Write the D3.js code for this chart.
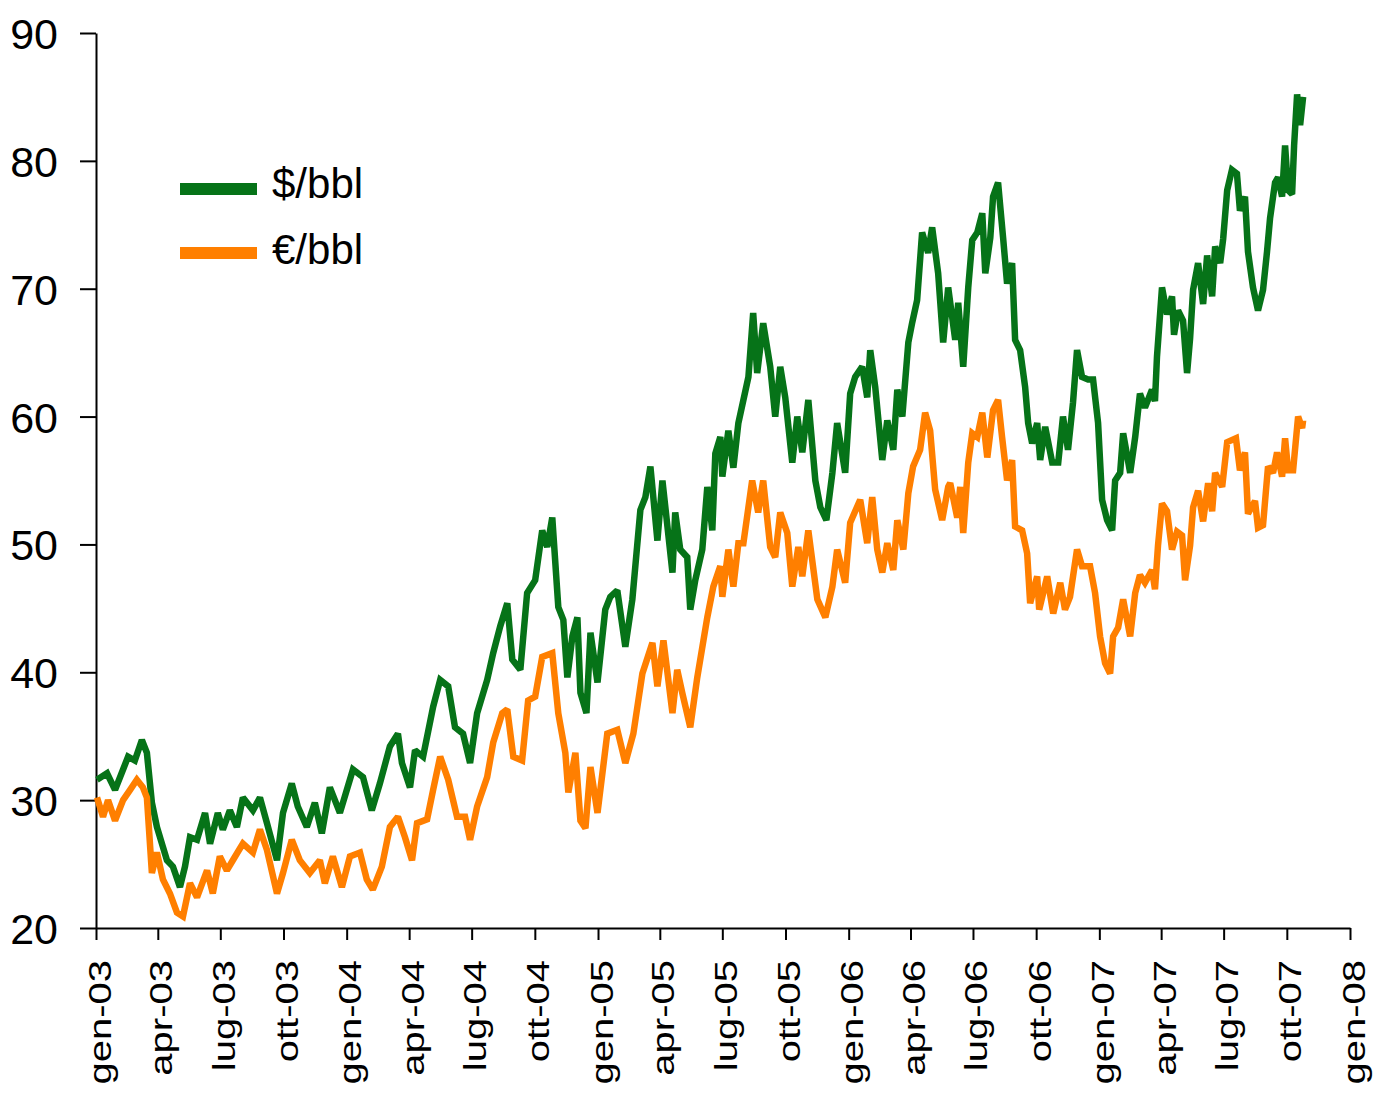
<!DOCTYPE html>
<html>
<head>
<meta charset="utf-8">
<script src="https://cdn.jsdelivr.net/npm/d3@7"></script>
<style>
  html, body { margin: 0; padding: 0; background: #fff; }
  svg { display: block; font-family: "Liberation Sans", Arial, Helvetica, sans-serif; }
</style>
</head>
<body>
<svg id="chart" width="1375" height="1094"></svg>
<script>
// ---- data (time as decimal years) ----
const usdDates = [
  2003.004,2003.044,2003.076,2003.108,2003.128,2003.155,2003.183,2003.203,2003.223,2003.243,2003.263,2003.283,2003.307,2003.335,2003.355,2003.375,2003.403,2003.435,2003.455,2003.486,2003.506,2003.534,2003.562,2003.586,2003.626,2003.654,2003.682,2003.722,2003.746,2003.781,2003.805,2003.841,2003.873,2003.901,2003.933,2003.973,
  2004.025,2004.065,2004.100,2004.132,2004.172,2004.204,2004.220,2004.252,2004.272,2004.304,2004.344,2004.372,2004.404,2004.431,2004.463,2004.491,2004.519,2004.559,2004.583,2004.611,2004.639,2004.659,2004.691,2004.718,2004.750,2004.778,2004.798,2004.818,2004.842,2004.862,2004.878,2004.898,2004.918,2004.930,2004.954,2004.970,2004.998,
  2005.029,2005.049,2005.077,2005.109,2005.137,2005.169,2005.189,2005.209,2005.237,2005.257,2005.297,2005.308,2005.328,2005.356,2005.368,2005.388,2005.416,2005.436,2005.456,2005.468,2005.488,2005.496,2005.520,2005.540,2005.560,2005.580,2005.600,2005.619,2005.635,2005.659,2005.687,2005.707,2005.727,2005.747,2005.775,2005.795,2005.815,2005.839,2005.867,2005.887,2005.911,2005.935,2005.954,2005.986,
  2006.006,2006.026,2006.054,2006.074,2006.086,2006.106,2006.134,2006.154,2006.178,2006.194,2006.214,2006.238,2006.253,2006.273,2006.293,2006.317,2006.333,2006.357,2006.377,2006.397,2006.425,2006.437,2006.457,2006.477,2006.493,2006.513,2006.533,2006.545,2006.565,2006.576,2006.596,2006.616,2006.632,2006.652,2006.664,2006.684,2006.704,2006.716,2006.732,2006.752,2006.764,2006.784,2006.812,2006.836,2006.855,2006.875,2006.895,2006.911,2006.931,2006.955,2006.975,2006.995,
  2007.011,2007.031,2007.051,2007.063,2007.083,2007.095,2007.123,2007.143,2007.162,2007.182,2007.210,2007.222,2007.230,2007.250,2007.270,2007.290,2007.298,2007.314,2007.334,2007.350,2007.362,2007.374,2007.394,2007.414,2007.430,2007.450,2007.462,2007.482,2007.494,2007.510,2007.529,2007.549,2007.561,2007.581,2007.593,2007.613,2007.633,2007.653,2007.669,2007.681,2007.701,2007.713,2007.729,2007.741,2007.753,2007.769,2007.777,2007.789,2007.801,2007.813
];
const usdValues = [
  31.6,32.1,30.8,32.4,33.4,33.1,34.7,33.7,29.8,27.9,26.6,25.3,24.8,23.2,24.8,27.1,26.9,29,26.6,29,27.7,29.2,27.9,30.2,29.2,30.2,28.2,25.3,29,31.3,29.5,27.9,29.8,27.4,31,29,
  32.4,31.8,29.2,31.3,34.2,35.2,32.9,31,33.9,33.4,37.3,39.4,38.9,35.7,35.2,32.9,36.8,39.4,41.5,43.6,45.4,41,40.2,46.2,47.2,51.1,49.8,52.1,45.1,44.1,39.6,42.8,44.3,38.4,36.8,43.1,39.2,
  44.9,45.9,46.4,42,45.7,52.7,53.7,56.1,50.3,55,47.8,52.5,49.6,49,44.9,47.2,49.6,54.5,51.1,57.1,58.4,55.3,58.9,56,59.5,61.3,63.1,68.1,63.4,67.3,63.9,60,63.9,61.5,56.4,60,57.2,61.3,55,52.9,51.9,55.6,59.5,55.6,
  61.8,63.1,63.9,61.5,65.2,62.3,56.6,59.7,57.4,62.1,60,65.8,67.3,69.1,74.4,72.8,74.8,71.2,65.8,70.1,66,68.9,63.9,70.1,73.8,74.4,75.9,71.2,74,77.2,78.3,74,70.4,72,66,65.2,62.3,59.5,57.9,59.5,56.6,59.2,56.4,56.4,60,57.4,61.1,65.2,63.1,62.9,62.9,59.5,
  53.5,51.9,51.1,55,55.6,58.7,55.6,58.4,61.8,60.7,62.1,61.2,64.7,70.1,68,69.4,66.4,68.3,67.5,63.4,66.1,69.9,72,68.8,72.6,69.4,73.3,72,73.9,77.7,79.3,79,76.1,77.2,72.9,70.1,68.3,69.9,72.9,75.5,78.3,78.7,77.2,81.2,77.7,77.4,81.2,85.2,82.8,85
];
const eurDates = [
  2003.004,2003.028,2003.048,2003.076,2003.108,2003.136,2003.163,2003.187,2003.203,2003.223,2003.243,2003.267,2003.295,2003.323,2003.347,2003.375,2003.403,2003.443,2003.466,2003.494,2003.522,2003.546,2003.586,2003.626,2003.654,2003.682,2003.722,2003.746,2003.781,2003.813,2003.853,2003.893,2003.913,2003.945,2003.981,
  2004.013,2004.053,2004.080,2004.104,2004.140,2004.172,2004.204,2004.232,2004.260,2004.280,2004.320,2004.344,2004.372,2004.404,2004.439,2004.471,2004.491,2004.519,2004.559,2004.583,2004.619,2004.639,2004.663,2004.698,2004.722,2004.750,2004.778,2004.818,2004.842,2004.870,2004.882,2004.910,2004.930,2004.950,2004.970,2004.998,
  2005.037,2005.077,2005.109,2005.141,2005.177,2005.217,2005.237,2005.261,2005.297,2005.316,2005.336,2005.368,2005.396,2005.436,2005.460,2005.488,2005.496,2005.520,2005.540,2005.560,2005.580,2005.615,2005.639,2005.659,2005.687,2005.707,2005.727,2005.755,2005.775,2005.799,2005.815,2005.839,2005.875,2005.907,2005.935,2005.954,2005.986,
  2006.006,2006.046,2006.074,2006.094,2006.114,2006.134,2006.154,2006.178,2006.194,2006.218,2006.238,2006.257,2006.285,2006.305,2006.325,2006.345,2006.373,2006.397,2006.405,2006.433,2006.445,2006.457,2006.477,2006.493,2006.513,2006.533,2006.553,2006.576,2006.596,2006.612,2006.632,2006.652,2006.664,2006.692,2006.712,2006.724,2006.752,2006.760,2006.792,2006.816,2006.844,2006.863,2006.883,2006.911,2006.931,2006.963,2006.983,
  2007.003,2007.023,2007.043,2007.055,2007.075,2007.095,2007.123,2007.143,2007.162,2007.182,2007.210,2007.222,2007.234,2007.250,2007.270,2007.290,2007.310,2007.330,2007.342,2007.362,2007.374,2007.394,2007.414,2007.434,2007.450,2007.462,2007.490,2007.510,2007.545,2007.561,2007.581,2007.593,2007.621,2007.633,2007.653,2007.673,2007.693,2007.709,2007.729,2007.741,2007.753,2007.773,2007.793,2007.809,2007.813
];
const eurValues = [
  30.2,28.7,30,28.4,30,30.8,31.6,31,30.2,24.3,25.9,23.8,22.7,21.2,20.9,23.5,22.4,24.5,22.7,25.6,24.5,25.3,26.6,25.9,27.7,26.1,22.7,24.3,26.9,25.3,24.3,25.3,23.5,25.6,23.2,
  25.6,25.9,23.8,23,24.8,27.9,28.7,27.1,25.3,28.2,28.5,30.8,33.4,31.6,28.7,28.7,26.9,29.5,31.8,34.5,36.8,37.1,33.4,33.1,37.8,38.1,41.2,41.5,36.8,33.7,30.6,33.7,28.4,27.8,32.6,29,
  35.2,35.5,32.9,35.2,39.9,42.3,38.9,42.5,36.8,40.2,38.4,35.7,39.6,44.3,46.7,48.3,45.9,49.6,46.7,50.1,50.1,55,52.5,55,49.8,49,52.5,50.9,46.7,49.8,47.5,51.1,45.7,44.3,46.7,49.6,47,
  51.7,53.5,50.1,53.7,49.6,47.8,50.1,48,51.9,49.6,54,56.1,57.4,60.3,58.9,54.3,51.9,54.5,54.8,52.1,54.5,50.9,56.4,58.7,58.4,60.3,56.8,60.5,61.3,58.4,55,56.6,51.4,51.1,49.3,45.4,47.5,44.9,47.5,44.6,47,44.9,45.9,49.6,48.3,48.3,46.2,
  42.8,40.7,39.9,42.8,43.5,45.7,42.8,46.2,47.6,47,48,46.5,49.9,53.2,52.6,49.6,51,50.7,47.2,49.9,52.9,54.2,51.8,54.8,52.6,55.6,54.5,58,58.3,55.8,57.2,52.4,53.4,51.3,51.5,56.1,55.6,57.2,55.3,58.3,55.8,55.8,60,59.1,59.7
];
const seriesNames = ["$/bbl", "\u20AC/bbl"];
const seriesColors = ["#067318", "#ff7f00"];
const xTickLabels = ["gen-03","apr-03","lug-03","ott-03","gen-04","apr-04","lug-04","ott-04","gen-05","apr-05","lug-05","ott-05","gen-06","apr-06","lug-06","ott-06","gen-07","apr-07","lug-07","ott-07","gen-08"];
const yTicks = [20, 30, 40, 50, 60, 70, 80, 90];

// ---- helpers ----
function decToDate(t) {
  const yr = Math.floor(t);
  const a = new Date(yr, 0, 1), b = new Date(yr + 1, 0, 1);
  return new Date(+a + (t - yr) * (b - a));
}
const usd = usdDates.map((t, i) => ({ date: decToDate(t), value: usdValues[i] }));
const eur = eurDates.map((t, i) => ({ date: decToDate(t), value: eurValues[i] }));

// ---- layout ----
const plotLeft = 96, plotRight = 1350, plotTop = 33, plotBottom = 928;
const svg = d3.select("#chart");

const x = d3.scaleTime().domain([new Date(2003, 0, 1), new Date(2008, 0, 1)]).range([plotLeft, plotRight]);
const y = d3.scaleLinear().domain([20, 90]).range([plotBottom, plotTop]);

const quarterTicks = d3.timeMonth.every(3).range(new Date(2003, 0, 1), new Date(2008, 0, 2));

// x axis
const xAxis = svg.append("g")
  .attr("transform", `translate(0,${plotBottom})`)
  .call(d3.axisBottom(x).tickValues(quarterTicks).tickSize(12).tickSizeOuter(0)
    .tickFormat((d, i) => xTickLabels[i]));
xAxis.select(".domain").attr("stroke", "#000").attr("stroke-width", 2);
xAxis.selectAll(".tick line").attr("stroke", "#000").attr("stroke-width", 2);
xAxis.selectAll(".tick text")
  .attr("fill", "#000")
  .attr("font-size", 40)
  .attr("font-family", "'Liberation Sans', Arial, sans-serif")
  .attr("text-anchor", "end")
  .attr("x", null).attr("y", null).attr("dy", null)
  .attr("transform", "translate(14,32) rotate(-90) scale(1,0.8)");

// y axis
const yAxis = svg.append("g")
  .attr("transform", `translate(${plotLeft},0)`)
  .call(d3.axisLeft(y).tickValues(yTicks).tickSize(16).tickSizeOuter(0).tickPadding(22)
    .tickFormat(d3.format("d")));
yAxis.select(".domain").attr("stroke", "#000").attr("stroke-width", 2);
yAxis.selectAll(".tick line").attr("stroke", "#000").attr("stroke-width", 2);
yAxis.selectAll(".tick text")
  .attr("fill", "#000")
  .attr("font-size", 43)
  .attr("font-family", "'Liberation Sans', Arial, sans-serif")
  .attr("dy", "0.36em");

// lines
const line = d3.line().x(d => x(d.date)).y(d => y(d.value));
[usd, eur].forEach((data, i) => {
  svg.append("path")
    .datum(data)
    .attr("fill", "none")
    .attr("stroke", seriesColors[i])
    .attr("stroke-width", 6.5)
    .attr("stroke-linejoin", "miter")
    .attr("stroke-miterlimit", 2)
    .attr("d", line);
});

// legend
const legend = svg.append("g");
seriesNames.forEach((name, i) => {
  const cy = 189 + i * 64;
  legend.append("line")
    .attr("x1", 180).attr("x2", 257).attr("y1", cy).attr("y2", cy)
    .attr("stroke", seriesColors[i]).attr("stroke-width", 12);
  legend.append("text")
    .attr("x", 272).attr("y", cy + 9 + i * 2)
    .attr("font-size", 42)
    .attr("fill", "#000")
    .text(name);
});
</script>
</body>
</html>
